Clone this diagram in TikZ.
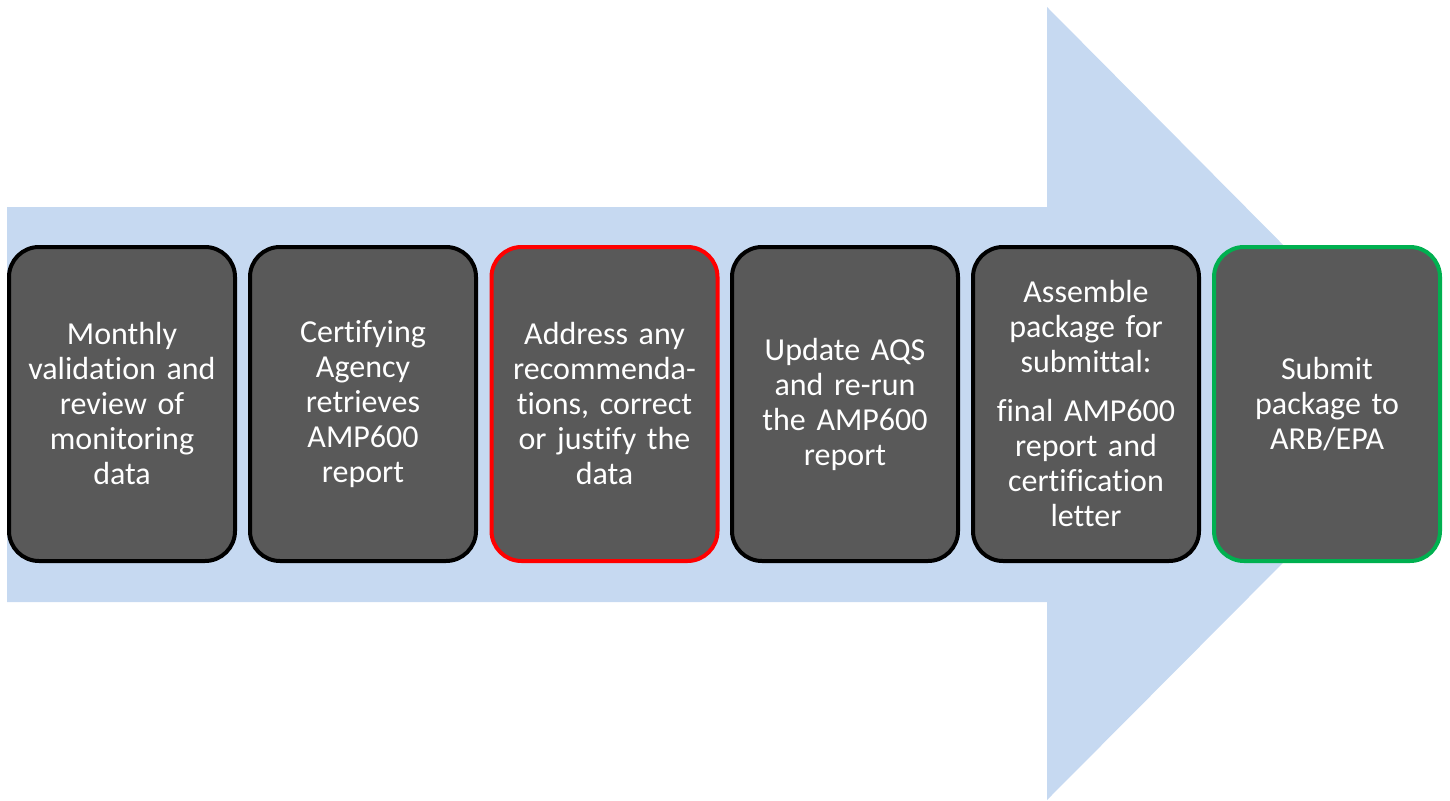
\documentclass[tikz,border=0pt]{standalone}
\usepackage{fontspec}
\setmainfont{Carlito}[RawFeature=-liga]
\definecolor{arrowblue}{HTML}{C6D9F1}
\definecolor{boxgray}{HTML}{595959}
\definecolor{okgreen}{HTML}{00B050}
\definecolor{alertred}{HTML}{FF0000}
\tikzset{
  stepbox/.style={draw=black, line width=4pt, fill=boxgray, rounded corners=30pt,
    minimum width=226pt, minimum height=314pt, text width=224pt, align=center,
    text=white, inner sep=0pt,
    font=\fontsize{32pt}{35pt}\selectfont},
}
\begin{document}
\begin{tikzpicture}[x=1pt,y=-1pt]
\useasboundingbox (0,0) rectangle (1450,800);
\fill[arrowblue] (7,207) -- (1047,207) -- (1047,7) -- (1441,404) -- (1047,800) -- (1047,602) -- (7,602) -- cycle;
\node[stepbox] (s1) at (122,404) {Monthly\\validation and\\review of\\monitoring\\data};
\node[stepbox] (s2) at (363,404) {Certifying\\Agency\\retrieves\\AMP600\\report};
\node[stepbox, draw=alertred] (s3) at (604.5,404) {Address any\\recommenda-\\tions, correct\\or justify the\\data};
\node[stepbox] (s4) at (845,404) {Update AQS\\and re-run\\the AMP600\\report};
\node[stepbox] (s5) at (1086,404) {Assemble\\package for\\submittal:\\[14pt]final AMP600\\report and\\certification\\letter};
\node[stepbox, draw=okgreen] (s6) at (1327,404) {Submit\\package to\\ARB/EPA};
\end{tikzpicture}
\end{document}
